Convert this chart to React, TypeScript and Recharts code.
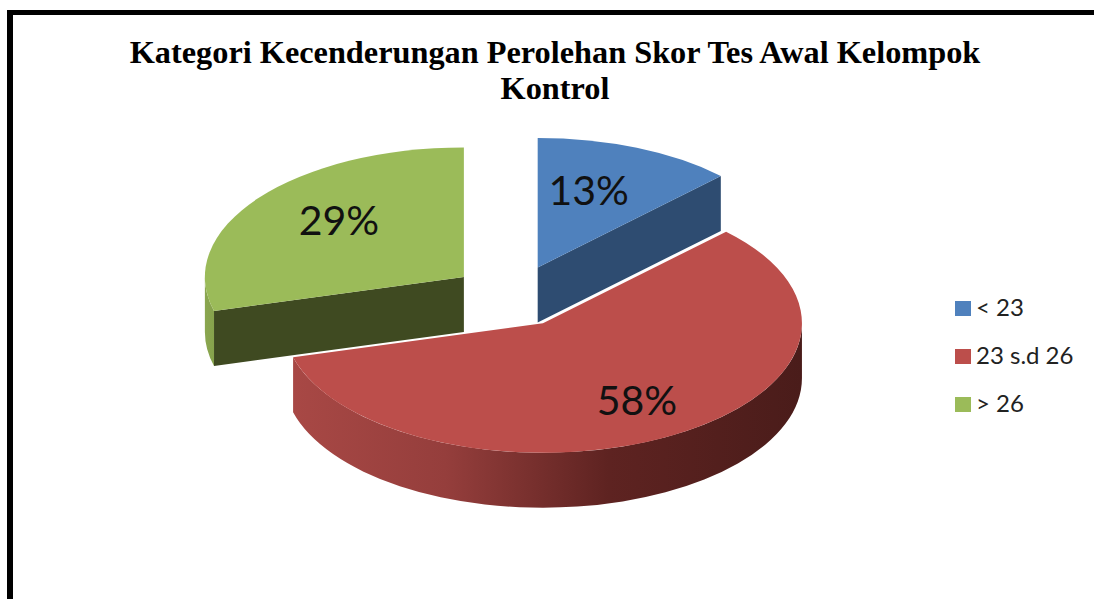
import { PieChart, Pie, Legend } from 'recharts';

const categories = ['< 23', '23 s.d 26', '> 26'];
const percentages = [13, 58, 29];
const topColors = ['#4f81bd', '#bc4e4b', '#9bbb59'];
const faceColors = ['#2e4c71', '#6e2a28', '#3f4a21'];
const wallStops = [
  [['0', '#41688f'], ['1', '#2e4c71']],
  [['0', '#a84845'], ['0.3', '#953e3c'], ['0.62', '#5e2321'], ['1', '#4a1c1a']],
  [['0', '#8aa64f'], ['1', '#86a24c']],
];
// label shift from each slice's apex, Excel's "best fit" is not radial
const labelShifts = [[51, -78], [94, 76], [-125, -57]];

const data = categories.map((name, i) => ({ name, value: percentages[i], fill: topColors[i] }));

const FONT = 'Lato, sans-serif';
const SQUASH = 0.5;
const DEPTH = 55;
const EXPLODE = 0.24;
const RADIUS = 259;
const TILT_WARP = 1.8; // 3D view pulls the rim angles a little

const rad = (deg: number) => (deg * Math.PI) / 180;

function rimPoint(ax: number, ay: number, r: number, deg: number) {
  return { x: ax + r * Math.cos(rad(deg)), y: ay - r * SQUASH * Math.sin(rad(deg)) };
}

function apexOf(cx: number, cy: number, r: number, mid: number) {
  return rimPoint(cx, cy, r * EXPLODE, mid);
}

function warp(deg: number) {
  const t = 90 - deg;
  return 90 - (t - TILT_WARP * Math.sin(rad(t * 2)));
}

function Slice3D(props: any) {
  const { cx, cy, outerRadius: r, startAngle, endAngle, fill, name } = props;
  const i = categories.indexOf(name);
  const apex = apexOf(cx, cy, r, (startAngle + endAngle) / 2);
  const ry = r * SQUASH;
  const hi = warp(Math.max(startAngle, endAngle));
  const lo = warp(Math.min(startAngle, endAngle));
  const a = rimPoint(apex.x, apex.y, r, hi);
  const b = rimPoint(apex.x, apex.y, r, lo);
  const large = hi - lo > 180 ? 1 : 0;
  const top = `M${apex.x},${apex.y}L${a.x},${a.y}A${r},${ry} 0 ${large} 1 ${b.x},${b.y}Z`;

  // the part of the rim that faces the viewer lies between 0 and -180 (mod 360)
  let wall = null;
  for (const turn of [0, -360]) {
    const from = Math.min(hi, turn);
    const to = Math.max(lo, turn - 180);
    if (from > to) {
      const p = rimPoint(apex.x, apex.y, r, from);
      const q = rimPoint(apex.x, apex.y, r, to);
      wall = `M${p.x},${p.y}A${r},${ry} 0 0 1 ${q.x},${q.y}L${q.x},${q.y + DEPTH}A${r},${ry} 0 0 0 ${p.x},${p.y + DEPTH}Z`;
    }
  }

  const face = (p: { x: number; y: number }) =>
    `M${apex.x},${apex.y}L${p.x},${p.y}L${p.x},${p.y + DEPTH}L${apex.x},${apex.y + DEPTH}Z`;
  const faces = [];
  if (Math.cos(rad(hi)) < -0.01) faces.push(face(a));
  if (Math.cos(rad(lo)) > 0.01) faces.push(face(b));

  return (
    <g>
      <defs>
        <linearGradient id={`wall-${i}`} x1="0" y1="0" x2="1" y2="0">
          {wallStops[i].map(([offset, color]) => (
            <stop key={offset} offset={offset} stopColor={color} />
          ))}
        </linearGradient>
      </defs>
      {wall && <path d={wall} fill={`url(#wall-${i})`} />}
      {faces.map((d) => (
        <path key={d} d={d} fill={faceColors[i]} />
      ))}
      <path d={top} fill={fill} />
    </g>
  );
}

function renderLabel(props: any) {
  const { cx, cy, outerRadius, midAngle, value, index } = props;
  const apex = apexOf(cx, cy, outerRadius, midAngle);
  return (
    <text
      x={apex.x + labelShifts[index][0]}
      y={apex.y + labelShifts[index][1]}
      textAnchor="middle"
      dominantBaseline="central"
      fontFamily={FONT}
      fontSize={41}
      fill="#111"
    >
      {value}%
    </text>
  );
}

function renderLegend({ payload }: any) {
  return (
    <div>
      {(payload || []).map((entry: any) => (
        <div key={entry.value} style={{ display: 'flex', alignItems: 'center', height: 48 }}>
          <span style={{ width: 16, height: 15, background: entry.color, marginRight: 5 }} />
          <span style={{ fontFamily: FONT, fontSize: 24, color: '#222', whiteSpace: 'nowrap', position: 'relative', top: -2 }}>
            {entry.value}
          </span>
        </div>
      ))}
    </div>
  );
}

export default function App() {
  return (
    <div style={{ position: 'absolute', left: 0, top: 0, width: 1094, height: 599, overflow: 'hidden', background: '#fff' }}>
      <div
        style={{
          position: 'absolute',
          left: 7,
          top: 10,
          width: 1100,
          height: 600,
          borderLeft: '6px solid #000',
          borderTop: '5px solid #000',
        }}
      />
      <div
        style={{
          position: 'absolute',
          left: 100,
          width: 910,
          top: 34,
          textAlign: 'center',
          fontFamily: '"Liberation Serif", serif',
          fontWeight: 700,
          fontSize: 32.3,
          lineHeight: '36px',
          color: '#000',
        }}
      >
        Kategori Kecenderungan Perolehan Skor Tes Awal Kelompok
        <br />
        Kontrol
      </div>
      <div style={{ position: 'absolute', left: 0, top: 0 }}>
        <PieChart width={1094} height={599} margin={{ top: 0, right: 0, bottom: 0, left: 0 }}>
          <Pie
            data={data}
            dataKey="value"
            nameKey="name"
            cx={513}
            cy={296}
            innerRadius={0}
            outerRadius={RADIUS}
            startAngle={90}
            endAngle={-270}
            stroke="none"
            shape={Slice3D}
            label={renderLabel}
            labelLine={false}
            isAnimationActive={false}
          />
          <Legend
            layout="vertical"
            align="right"
            verticalAlign="middle"
            content={renderLegend}
            itemSorter={null}
            wrapperStyle={{ left: 955, top: 284, width: 130 }}
          />
        </PieChart>
      </div>
    </div>
  );
}
